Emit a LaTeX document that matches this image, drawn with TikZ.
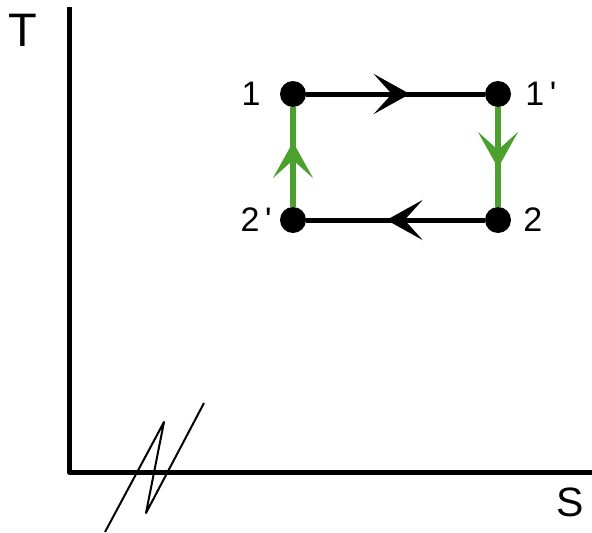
\documentclass[tikz,border=0pt]{standalone}
\usepackage{fontspec}
\setmainfont{Liberation Sans}
\usetikzlibrary{arrows.meta,decorations.markings}
\definecolor{cyclegreen}{RGB}{76,161,46}
\tikzset{
  state/.style={circle,fill=black,inner sep=0pt,minimum size=26pt},
  numlbl/.style={inner sep=0pt,font=\fontsize{34}{34}\selectfont},
  axislbl/.style={inner sep=0pt,font=\fontsize{#1}{#1}\selectfont},
  midarrow/.style={postaction={decorate},decoration={markings,
      mark=at position #1 with {\arrow{Stealth[length=36pt,width=40pt,inset=18pt]}}}},
}
\begin{document}
\begin{tikzpicture}[x=1pt,y=-1pt,line join=round]
  \useasboundingbox (0,0) rectangle (592,533);
  % axes
  \coordinate (top) at (69,7);
  \coordinate (O) at (69,472);
  \coordinate (right) at (592,472);
  \draw[line width=5pt] (top) -- (O) -- (right);
  \node[axislbl=47] (T) at (23,30) {T};
  \node[axislbl=41] (S) at (570,502) {S};
  % break mark
  \coordinate (b1) at (105,532);
  \coordinate (b2) at (164,422);
  \coordinate (b3) at (146,513);
  \coordinate (b4) at (204,403);
  \draw[line width=2pt] (b1) -- (b2) -- (b3) -- (b4);
  % cycle
  \node[state,label={[numlbl,label distance=19pt]left:1}] (n1) at (293,94) {};
  \node[state,label={[numlbl,label distance=14pt]right:1\,\textquotesingle}] (n1p) at (498,94) {};
  \node[state,label={[numlbl,label distance=12pt]right:2}] (n2) at (498,220) {};
  \node[state,label={[numlbl,label distance=8pt]left:2\,\textquotesingle}] (n2p) at (293,220) {};
  \draw[line width=5pt,midarrow=0.58] (n1) -- (n1p);
  \draw[line width=5pt,midarrow=0.55] (n2) -- (n2p);
  \draw[line width=6pt,cyclegreen,midarrow=0.65] (n2p) -- (n1);
  \draw[line width=6pt,cyclegreen,midarrow=0.61] (n1p) -- (n2);
\end{tikzpicture}
\end{document}
